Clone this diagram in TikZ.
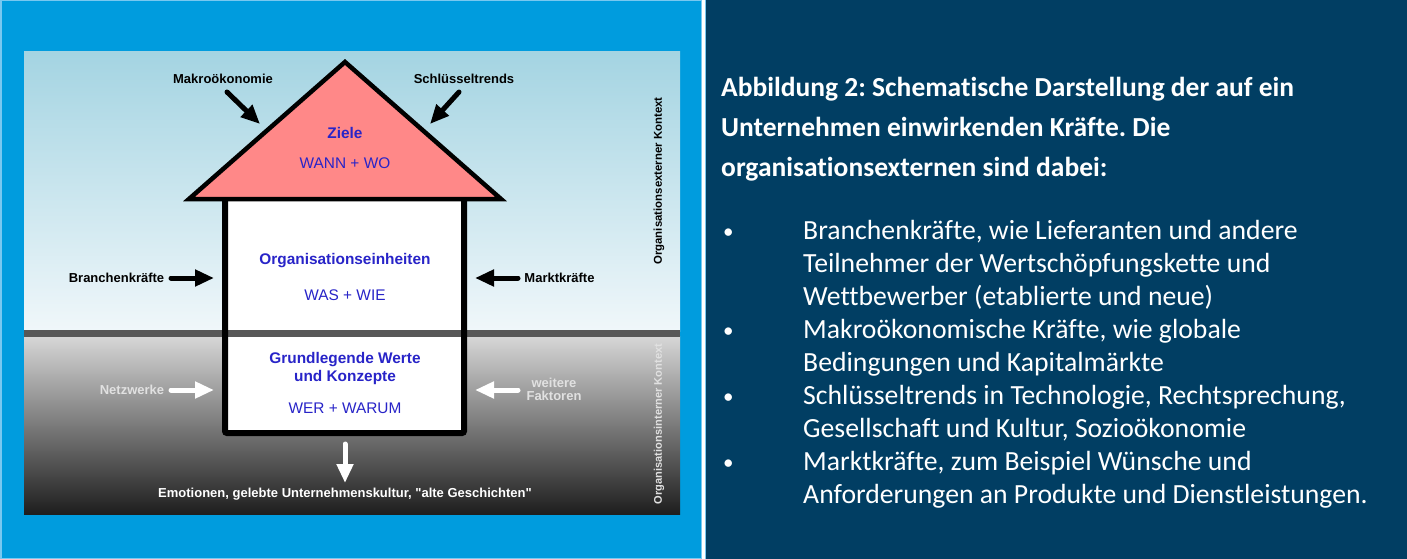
\documentclass[tikz,border=0pt]{standalone}
\usepackage{fontspec}
\setmainfont{Liberation Sans}
\newfontfamily\nomapfont{Liberation Sans}[Ligatures=TeXOff]
\newfontfamily\calfont{Carlito}[Ligatures=NoCommon]
\usetikzlibrary{arrows.meta}
\frenchspacing
\definecolor{panelblue}{RGB}{0,156,222}
\definecolor{panelrim}{RGB}{120,200,240}
\definecolor{navy}{RGB}{1,62,99}
\definecolor{skytop}{RGB}{164,212,226}
\definecolor{skybot}{RGB}{240,247,250}
\definecolor{gtop}{RGB}{215,215,215}
\definecolor{gmid}{RGB}{110,110,110}
\definecolor{gbot}{RGB}{30,30,30}
\definecolor{roofred}{RGB}{255,136,136}
\definecolor{txtblue}{RGB}{40,36,200}
\definecolor{groundline}{RGB}{88,88,88}
\definecolor{lightlab}{RGB}{225,225,225}
\tikzset{
  lab/.style={font=\bfseries\fontsize{13}{15}\selectfont, inner sep=0pt, anchor=base},
  boxtitle/.style={font=\bfseries\fontsize{15.4}{17}\selectfont, text=txtblue, inner sep=0pt, anchor=base},
  boxsub/.style={font=\fontsize{15.4}{17}\selectfont, text=txtblue, inner sep=0pt, anchor=base},
  vlab/.style={font=\bfseries\fontsize{11.4}{13}\selectfont, inner sep=0pt, rotate=90},
  blkarrow/.style={line width=5pt, line cap=round, draw=black, -{Triangle[length=19pt,width=16pt]}},
  whtarrow/.style={blkarrow, draw=white},
  captitle/.style={font=\calfont\bfseries\fontsize{27.5}{30}\selectfont, text=white, inner sep=0pt, anchor=base west},
  capline/.style={font=\calfont\fontsize{27.7}{30}\selectfont, text=white, inner sep=0pt, anchor=base west},
  bulletmark/.style={font=\calfont\fontsize{21}{24}\selectfont, text=white, inner sep=0pt, anchor=base west}
}
\begin{document}
\begin{tikzpicture}[x=1pt,y=-1pt]
\useasboundingbox (0,0) rectangle (1407,559);
% panels
\fill[panelblue] (0,0) rectangle (703,559);
\draw[panelrim, line width=1.5pt] (0.75,0.75) rectangle (702,558.25);
\fill[white] (702,0) rectangle (705,559);
\fill[navy] (705,0) rectangle (1407,559);
\draw[panelrim, line width=1pt] (705.5,0.5) -- (705.5,558.5);
% diagram background
\shade[top color=skytop, bottom color=skybot] (24,52) rectangle (680,331);
\shade[top color=gtop, middle color=gmid, bottom color=gbot] (24,336) rectangle (680,514);
% house body
\fill[white] (225,199) rectangle (464,433);
\fill[groundline] (24,330) rectangle (680,337);
\draw[black, line width=6pt, rounded corners=2pt] (225,190) -- (225,433) -- (464,433) -- (464,190);
% roof
\filldraw[fill=roofred, draw=black, line width=4.5pt, line join=miter, miter limit=10] (345,62) -- (501,199) -- (189,199) -- cycle;
% texts in house
\node[boxtitle] (ziele) at (345,139) {Ziele};
\node[boxsub] (wannwo) at (345,168.5) {WANN + WO};
\node[boxtitle] (orgein) at (345,264.5) {Organisationseinheiten};
\node[boxsub] (waswie) at (345,300.5) {WAS + WIE};
\node[boxtitle] (grund1) at (345,363.5) {Grundlegende Werte};
\node[boxtitle] (grund2) at (345,381.5) {und Konzepte};
\node[boxsub] (werwarum) at (345,413.5) {WER + WARUM};
% outside labels
\node[lab] (makro) at (223,83.5) {Makroökonomie};
\node[lab] (schluessel) at (464,83.5) {Schlüsseltrends};
\node[lab] (branchen) at (116.5,282.5) {Branchenkräfte};
\node[lab] (markt) at (559.5,282.5) {Marktkräfte};
\node[lab, text=lightlab] (netz) at (132,394.5) {Netzwerke};
\node[lab, text=lightlab] (weitere) at (554,387.5) {weitere};
\node[lab, text=lightlab] (faktoren) at (554,400.5) {Faktoren};
\node[lab, text=white, font=\nomapfont\bfseries\fontsize{13}{15}\selectfont] (emo) at (345,497.5) {Emotionen, gelebte Unternehmenskultur, "alte Geschichten"};
\node[vlab, text=black] (extern) at (659,181) {Organisationsexterner Kontext};
\node[vlab, text=lightlab, font=\bfseries\fontsize{11.1}{13}\selectfont] (intern) at (659,424) {Organisationsinterner Kontext};
% arrow end points
\coordinate (mk0) at (227,92);   \coordinate (mk1) at (260,124);
\coordinate (sl0) at (459,92);   \coordinate (sl1) at (430,124);
\coordinate (br0) at (171,278);  \coordinate (br1) at (214,278);
\coordinate (mt0) at (518,278);  \coordinate (mt1) at (475,278);
\coordinate (nw0) at (171,390);  \coordinate (nw1) at (214,390);
\coordinate (wf0) at (518,390);  \coordinate (wf1) at (475,390);
\coordinate (dn0) at (345,444);  \coordinate (dn1) at (345,483);
\draw[blkarrow] (mk0) -- (mk1);
\draw[blkarrow] (sl0) -- (sl1);
\draw[blkarrow] (br0) -- (br1);
\draw[blkarrow] (mt0) -- (mt1);
\draw[whtarrow] (nw0) -- (nw1);
\draw[whtarrow] (wf0) -- (wf1);
\draw[whtarrow] (dn0) -- (dn1);
% caption
\node[captitle] (t1) at (721,97) {Abbildung 2: Schematische Darstellung der auf ein};
\node[captitle] (t2) at (721,136.5) {Unternehmen einwirkenden Kräfte. Die};
\node[captitle] (t3) at (721,176) {organisationsexternen sind dabei:};
\node[bulletmark] (b1) at (723,238) {•};
\node[capline] (l1) at (803,239) {Branchenkräfte, wie Lieferanten und andere};
\node[capline] (l2) at (803,272.1) {Teilnehmer der Wertschöpfungskette und};
\node[capline] (l3) at (803,305.2) {Wettbewerber (etablierte und neue)};
\node[bulletmark] (b2) at (723,337.3) {•};
\node[capline] (l4) at (803,338.3) {Makroökonomische Kräfte, wie globale};
\node[capline] (l5) at (803,371.4) {Bedingungen und Kapitalmärkte};
\node[bulletmark] (b3) at (723,403.5) {•};
\node[capline] (l6) at (803,404.5) {Schlüsseltrends in Technologie, Rechtsprechung,};
\node[capline] (l7) at (803,437.6) {Gesellschaft und Kultur, Sozioökonomie};
\node[bulletmark] (b4) at (723,469.7) {•};
\node[capline] (l8) at (803,470.7) {Marktkräfte, zum Beispiel Wünsche und};
\node[capline] (l9) at (803,503.8) {Anforderungen an Produkte und Dienstleistungen.};
\end{tikzpicture}
\end{document}
